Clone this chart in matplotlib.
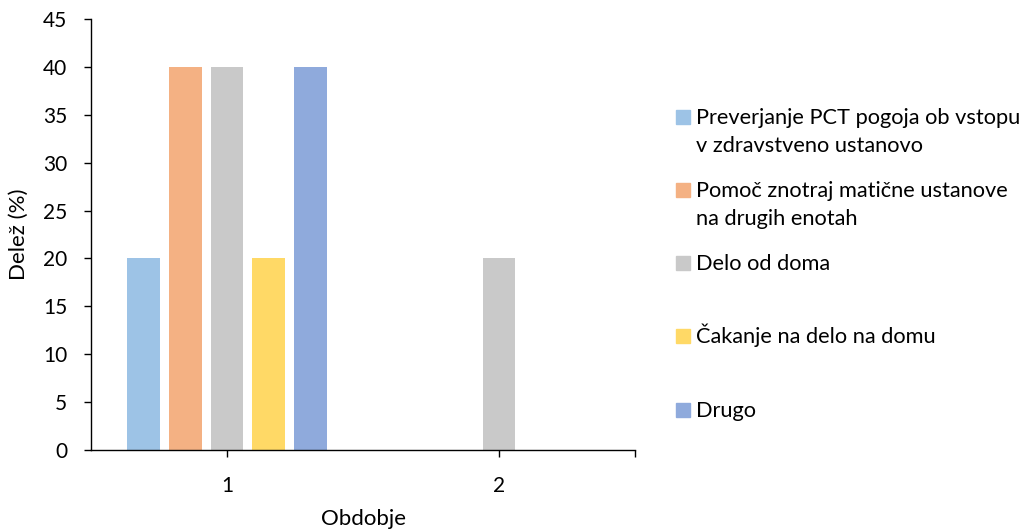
import matplotlib
matplotlib.use("Agg")
import matplotlib.pyplot as plt
from matplotlib.patches import Rectangle
import numpy as np

plt.rcParams['font.family'] = ['Lato', 'DejaVu Sans']

periods = ["1", "2"]
series_names = [
    "Preverjanje PCT pogoja ob vstopu\nv zdravstveno ustanovo",
    "Pomoč znotraj matične ustanove\nna drugih enotah",
    "Delo od doma",
    "Čakanje na delo na domu",
    "Drugo",
]
preverjanje = [20, 0]
pomoc = [40, 0]
delo_od_doma = [40, 20]
cakanje = [20, 0]
drugo = [40, 0]
values = [preverjanje, pomoc, delo_od_doma, cakanje, drugo]
colors = ["#9DC3E6", "#F4B183", "#C9C9C9", "#FFD966", "#8FAADC"]

W, H = 1023, 532
fig = plt.figure(figsize=(W / 100, H / 100), dpi=100)
ax = fig.add_axes([91 / W, 1 - 450 / H, (635 - 91) / W, (450 - 19) / H])

x = np.arange(1, len(periods) + 1)
step = 0.153
width = 0.121
for i, (vals, col) in enumerate(zip(values, colors)):
    ax.bar(x + (i - 2) * step, vals, width=width, color=col, zorder=2)

ax.set_xlim(0.5, 2.5)
ax.set_ylim(0, 45)
ax.set_yticks(np.arange(0, 46, 5))
ax.set_xticks(list(x) + [2.5])
ax.set_xticklabels(periods + [""])
ax.spines['top'].set_visible(False)
ax.spines['right'].set_visible(False)
for s in ('left', 'bottom'):
    ax.spines[s].set_color('#000000')
    ax.spines[s].set_linewidth(1.0)
ax.tick_params(axis='both', direction='out', length=5, width=1.0,
               labelsize=15, colors='#000000')
ax.tick_params(axis='y', pad=12)
ax.tick_params(axis='x', pad=14)
ax.set_ylabel("Delež (%)", fontsize=16, labelpad=10)
ax.set_xlabel("Obdobje", fontsize=16, labelpad=9)

# legend drawn as squares and text in pixel-based figure coordinates
entry_y = [117, 190, 263, 336, 410]
for name, col, yc in zip(series_names, colors, entry_y):
    fig.patches.append(Rectangle((676 / W, 1 - (yc + 7) / H), 14 / W, 14 / H,
                                 transform=fig.transFigure, color=col))
    lines = name.split("\n")
    for k, line in enumerate(lines):
        fig.text(696 / W, 1 - (yc + 7 + 28 * k) / H, line, fontsize=15.7,
                 va='baseline', ha='left')

fig.savefig("out.png", dpi=100)
